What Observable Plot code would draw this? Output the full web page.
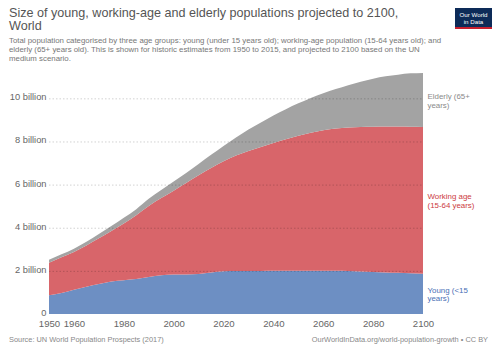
<!DOCTYPE html>
<html>
<head>
<meta charset="utf-8">
<script src="https://cdn.jsdelivr.net/npm/d3@7"></script>
<script src="https://cdn.jsdelivr.net/npm/@observablehq/plot@0.6"></script>
<style>
  html, body { margin: 0; padding: 0; background: #fff; }
  #wrap { position: relative; width: 500px; height: 353px; overflow: hidden; font-family: "Liberation Sans", Arial, sans-serif; }
  #title { position: absolute; left: 9px; top: 7px; font-size: 12.6px; line-height: 12.6px; color: #555; white-space: nowrap; }
  #subtitle { position: absolute; left: 9px; top: 36px; font-size: 7.85px; line-height: 9.2px; color: #777; white-space: nowrap; }
  #logo { position: absolute; left: 455px; top: 8px; width: 37px; height: 21px; background: #0d2b58; border-bottom: 2px solid #c8202f; box-sizing: border-box; color: #fff; font-size: 6.2px; line-height: 7px; text-align: center; padding-top: 2.5px; white-space: nowrap; }
  #plot { position: absolute; left: 0; top: 60px; }
  #source { position: absolute; left: 9px; top: 335px; font-size: 7.4px; color: #888; white-space: nowrap; }
  #url { position: absolute; right: 12px; top: 335px; font-size: 7.4px; color: #888; white-space: nowrap; }
</style>
</head>
<body>
<div id="wrap">
  <div id="title">Size of young, working-age and elderly populations projected to 2100,<br>World</div>
  <div id="subtitle">Total population categorised by three age groups: young (under 15 years old); working-age population (15-64 years old); and<br>elderly (65+ years old). This is shown for historic estimates from 1950 to 2015, and projected to 2100 based on the UN<br>medium scenario.</div>
  <div id="logo">Our World<br>in Data</div>
  <div id="plot"></div>
  <div id="source">Source: UN World Population Prospects (2017)</div>
  <div id="url">OurWorldInData.org/world-population-growth • CC BY</div>
</div>
<script>
const years = [1950,1955,1960,1965,1970,1975,1980,1985,1990,1995,2000,2005,2010,2015,2020,2025,2030,2035,2040,2045,2050,2055,2060,2065,2070,2075,2080,2085,2090,2095,2100];
// billions
const young   = [0.87,0.97,1.12,1.26,1.39,1.51,1.57,1.62,1.72,1.80,1.83,1.83,1.85,1.92,1.98,1.99,1.99,1.99,2.00,2.00,2.01,2.01,2.00,2.00,1.99,1.97,1.95,1.93,1.91,1.89,1.87];
const working = [1.51,1.66,1.76,1.92,2.12,2.34,2.63,2.96,3.29,3.58,3.89,4.24,4.58,4.85,5.10,5.36,5.57,5.75,5.93,6.10,6.25,6.39,6.52,6.60,6.66,6.70,6.73,6.76,6.78,6.79,6.80];
const elderly = [0.13,0.14,0.15,0.17,0.20,0.23,0.26,0.28,0.33,0.37,0.42,0.47,0.53,0.61,0.71,0.83,0.99,1.14,1.28,1.40,1.51,1.62,1.72,1.83,1.96,2.10,2.23,2.33,2.41,2.48,2.51];
const groups = ["Young (<15 years)", "Working age (15-64 years)", "Elderly (65+ years)"];
const labels = ["Young (<15\nyears)", "Working age\n(15-64 years)", "Elderly (65+\nyears)"];
const fills = ["#6d8fc3", "#d8656a", "#a3a3a3"];
const labelColors = ["#4a6fb5", "#cc3b42", "#8a8a8a"];
const xTicks = [1950,1960,1980,2000,2020,2040,2060,2080,2100];
const yTicks = [0,2,4,6,8,10];

const series = [young, working, elderly];
const data = [];
years.forEach((yr, i) => groups.forEach((g, k) => data.push({year: yr, group: g, value: series[k][i]})));

// label positions: middle of each band at the final year
const last = years.length - 1;
let base = 0;
const labelData = groups.map((g, k) => {
  const v = series[k][last];
  const mid = base + v / 2;
  base += v;
  return {year: years[last], y: mid, text: labels[k], color: labelColors[k]};
});

const chart = Plot.plot({
  width: 500,
  height: 275,
  marginLeft: 49,
  marginRight: 77,
  marginTop: 6,
  marginBottom: 21,
  style: {fontFamily: "'Liberation Sans', Arial, sans-serif", fontSize: "9.3px", color: "#666", background: "transparent"},
  x: {domain: [1950, 2100]},
  y: {domain: [0, 11.5]},
  color: {domain: groups, range: fills},
  marks: [
    Plot.areaY(data, {x: "year", y: "value", fill: "group", order: groups, curve: "monotone-x"}),
    Plot.gridY(yTicks.filter(d => d > 0), {stroke: "#000", strokeOpacity: 0.18, strokeDasharray: "1.5,2", x1: 1950, x2: 2100}),
    Plot.axisY({ticks: yTicks, tickSize: 0, tickPadding: 3, dy: -1.5, label: null, tickFormat: d => d === 0 ? "0" : `${d} billion`}),
    Plot.axisX({ticks: xTicks, tickSize: 0, tickPadding: 6, label: null, tickFormat: d => String(d), fontSize: "9.6px"}),
    Plot.text(labelData, {x: "year", y: "y", text: "text", fill: "color", dx: 4, textAnchor: "start", lineAnchor: "middle", fontSize: 7.9, lineHeight: 1.1})
  ]
});
document.getElementById("plot").appendChild(chart);
</script>
</body>
</html>
